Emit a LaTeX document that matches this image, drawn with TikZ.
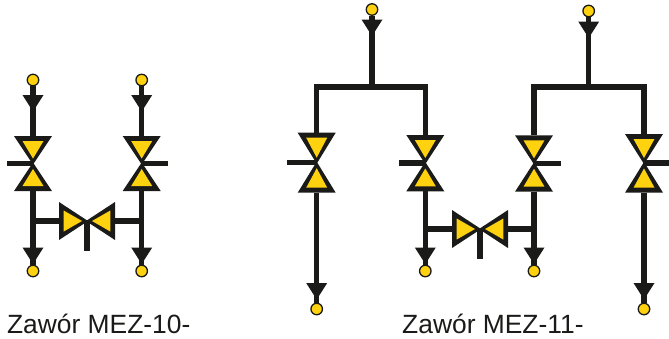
\documentclass[tikz,border=0pt]{standalone}
\usepackage{fontspec}
\setmainfont{Liberation Sans}
\definecolor{ink}{HTML}{1A1A18}
\definecolor{amber}{HTML}{FFD20F}
\tikzset{
  pipe/.style={draw=ink,line width=5.5pt,line join=miter},
  portdot/.style={circle,draw=ink,line width=1.3pt,fill=amber,minimum size=11.5pt,inner sep=0pt},
  caption/.style={anchor=base west,inner sep=0pt,text=ink,font=\fontsize{26.4pt}{30pt}\selectfont},
  pics/flowhead/.style={code={
    \fill[ink] (0,1) -- (-10.5,-15.5) -- (10.5,-15.5) -- cycle;
  }},
  pics/vvalve/.style n args={3}{code={
    \fill[ink] (-19,-#1) -- (19,-#1) -- (0,1) -- cycle;
    \fill[ink] (-19,#2) -- (19,#2) -- (0,-1) -- cycle;
    \fill[amber] (-10.5,{-#1+5}) -- (10.5,{-#1+5}) -- (0,-5) -- cycle;
    \fill[amber] (-10.5,{#2-5}) -- (10.5,{#2-5}) -- (0,5.5) -- cycle;
    \draw[pipe] (0,0) -- (#3,0);
    \coordinate (-top) at (0,-#1);
    \coordinate (-bot) at (0,#2);
  }},
  pics/hvalve/.style={code={
    \fill[ink] (-28,-19) -- (-28,19) -- (1,0) -- cycle;
    \fill[ink] (28,-19) -- (28,19) -- (-1,0) -- cycle;
    \fill[amber] (-23.3,-10.5) -- (-23.3,10.5) -- (-5,0) -- cycle;
    \fill[amber] (23.3,-10.5) -- (23.3,10.5) -- (5,0) -- cycle;
    \draw[pipe] (0,0) -- (0,30);
    \coordinate (-left) at (-28,0);
    \coordinate (-right) at (28,0);
  }},
}
\begin{document}
\begin{tikzpicture}[x=1pt,y=-1pt]
\useasboundingbox (0,0) rectangle (669,338);
% --- MEZ-10
\pic (a) at (33,163.5) {vvalve={27.5}{27.5}{-26}};
\pic (b) at (141.7,163.5) {vvalve={27.5}{27.5}{26.5}};
\pic (ah) at (87,221) {hvalve};
\node[portdot] (ain) at (33,80) {};
\node[portdot] (bin) at (141.7,80) {};
\node[portdot] (aout) at (33,271) {};
\node[portdot] (bout) at (141.7,271) {};
\pic at (33,110.5) {flowhead};
\pic at (141.7,110.5) {flowhead};
\pic at (33,263) {flowhead};
\pic at (141.7,263) {flowhead};
\draw[pipe] (ain) -- (a-top);
\draw[pipe] (bin) -- (b-top);
\draw[pipe] (a-bot) -- (aout);
\draw[pipe] (b-bot) -- (bout);
\draw[pipe] (ah-left) -- (a-bot |- ah-left);
\draw[pipe] (ah-right) -- (b-bot |- ah-right);
% --- MEZ-11
\pic (c) at (316.7,162.7) {vvalve={30}{30}{-29.5}};
\pic (d) at (425.3,163) {vvalve={28}{28.3}{-26}};
\pic (e) at (534,163.3) {vvalve={28}{28.4}{26.7}};
\pic (f) at (644,163) {vvalve={29}{29.7}{25}};
\pic (dh) at (480,229) {hvalve};
\node[portdot] (cdin) at (372,9.5) {};
\node[portdot] (efin) at (588.7,11) {};
\node[portdot] (cout) at (316.7,309) {};
\node[portdot] (dout) at (425.3,271) {};
\node[portdot] (eout) at (534,271) {};
\node[portdot] (fout) at (644,309) {};
\coordinate (cdj) at (372,87);
\coordinate (efj) at (588.7,87);
\pic at (372,35) {flowhead};
\pic at (588.7,37) {flowhead};
\pic at (316.7,298.5) {flowhead};
\pic at (425.3,263) {flowhead};
\pic at (534,263) {flowhead};
\pic at (644,298.5) {flowhead};
\draw[pipe] (cdin) -- (cdj);
\draw[pipe] (efin) -- (efj);
\draw[pipe] (c-top) |- (d-top |- cdj) -- (d-top);
\draw[pipe] (e-top) |- (f-top |- efj) -- (f-top);
\draw[pipe] (c-bot) -- (cout);
\draw[pipe] (d-bot) -- (dout);
\draw[pipe] (e-bot) -- (eout);
\draw[pipe] (f-bot) -- (fout);
\draw[pipe] (dh-left) -- (d-bot |- dh-left);
\draw[pipe] (dh-right) -- (e-bot |- dh-right);
% --- captions
\node[caption] (capa) at (6.8,333) {Zawór MEZ-10-};
\node[caption] (capb) at (402,333) {Zawór MEZ-11-};
\end{tikzpicture}
\end{document}
